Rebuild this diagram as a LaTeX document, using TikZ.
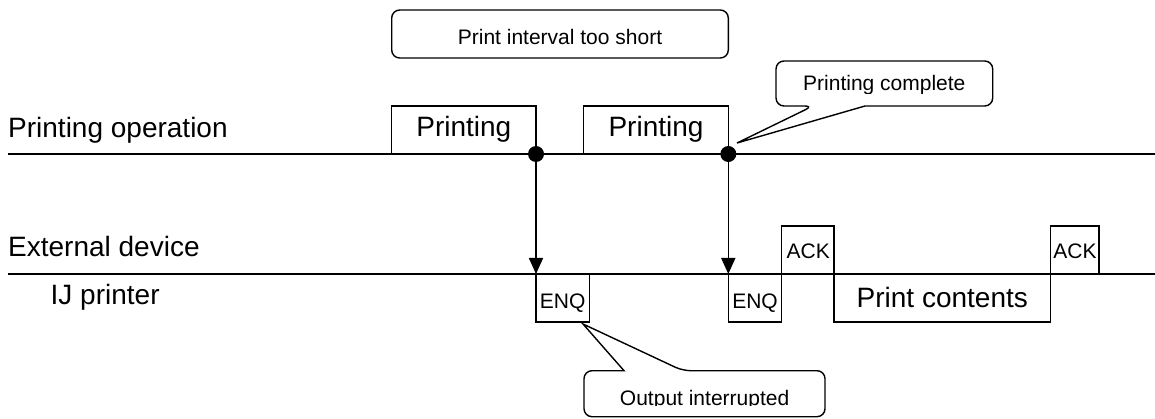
\documentclass[tikz,border=0pt]{standalone}
\usepackage{fontspec}
\setmainfont{Liberation Sans}
\usetikzlibrary{arrows.meta}

\tikzset{
  biglabel/.style={inner sep=0pt, font=\fontsize{28}{32}\selectfont},
  smalllabel/.style={inner sep=0pt, font=\fontsize{21}{24}\selectfont},
  timeline/.style={line width=1.7pt},
  signalbox/.style={draw, line width=1.5pt},
  callout/.style={draw, line width=1.4pt, rounded corners=8pt},
  event/.style={circle, fill, inner sep=0pt, minimum size=16pt},
  trigger/.style={line width=1.6pt, -{Triangle[length=16pt,width=14pt]}},
}

\begin{document}
\begin{tikzpicture}[x=1pt, y=-1pt]
  \useasboundingbox (0,0) rectangle (1155,419);

  % row labels
  \node[biglabel, anchor=base west] (lblop)  at (8,137.3)  {Printing operation};
  \node[biglabel, anchor=base west] (lblext) at (8,256.7)  {External device};
  \node[biglabel, anchor=base west] (lblij)  at (50.5,305) {IJ printer};

  % time lines
  \draw[timeline] (8,154) coordinate (opL) -- (1155,154) coordinate (opR);
  \draw[timeline] (8,274) coordinate (exL) -- (1155,274) coordinate (exR);

  % printing operation pulses
  \draw[signalbox] (391.7,154) rectangle (536,106);
  \node[biglabel, anchor=base] (print1) at (463.8,136.7) {Printing};
  \draw[signalbox] (583.7,154) rectangle (728.3,106);
  \node[biglabel, anchor=base] (print2) at (656,136.7) {Printing};

  % end-of-printing events and triggers
  \node[event] (dot1) at (536,154) {};
  \node[event] (dot2) at (728.3,154) {};
  \coordinate (hit1) at (536,274);
  \coordinate (hit2) at (728.3,274);
  \draw[trigger] (dot1) -- (hit1);
  \draw[trigger] (dot2) -- (hit2);

  % IJ printer side
  \draw[signalbox] (536,274) rectangle (589.3,322);
  \node[smalllabel, anchor=base] (enq1) at (562.6,308.3) {ENQ};
  \draw[signalbox] (728.3,274) rectangle (781.7,322);
  \node[smalllabel, anchor=base] (enq2) at (755,308.3) {ENQ};
  \draw[signalbox] (834,274) rectangle (1050.7,322);
  \node[biglabel, anchor=base] (contents) at (942.3,307.5) {Print contents};

  % external device side
  \draw[signalbox] (781.7,274) rectangle (834,226);
  \node[smalllabel, anchor=base] (ack1) at (808.2,258.3) {ACK};
  \draw[signalbox] (1050.7,274) rectangle (1099.2,226);
  \node[smalllabel, anchor=base] (ack2) at (1075,258.3) {ACK};

  % note: interval
  \draw[callout] (391.7,10) rectangle (728.3,58);
  \node[smalllabel, anchor=base] (interval) at (560,45) {Print interval too short};

  % note: printing complete
  \draw[callout] (776,106) -- (813,106) [sharp corners] -- (737,143) -- (865,106)
    [rounded corners=8pt] -- (992.7,106) -- (992.7,61) -- (776,61) -- cycle;
  \begin{scope}
    \clip (776,61) rectangle (992.7,93.4);
    \node[smalllabel, anchor=base] (complete) at (884.3,90.7) {Printing complete};
  \end{scope}

  % note: output interrupted
  \draw[callout] (825,370.7) -- (682.7,370.7) [sharp corners] -- (583,324) -- (624,370.7)
    [rounded corners=8pt] -- (584,370.7) -- (584,416.7) -- (825,416.7) -- cycle;
  \begin{scope}
    \clip (584,370.7) rectangle (825,405.4);
    \node[smalllabel, anchor=base] (interrupted) at (704.6,405) {Output interrupted};
  \end{scope}
\end{tikzpicture}
\end{document}
